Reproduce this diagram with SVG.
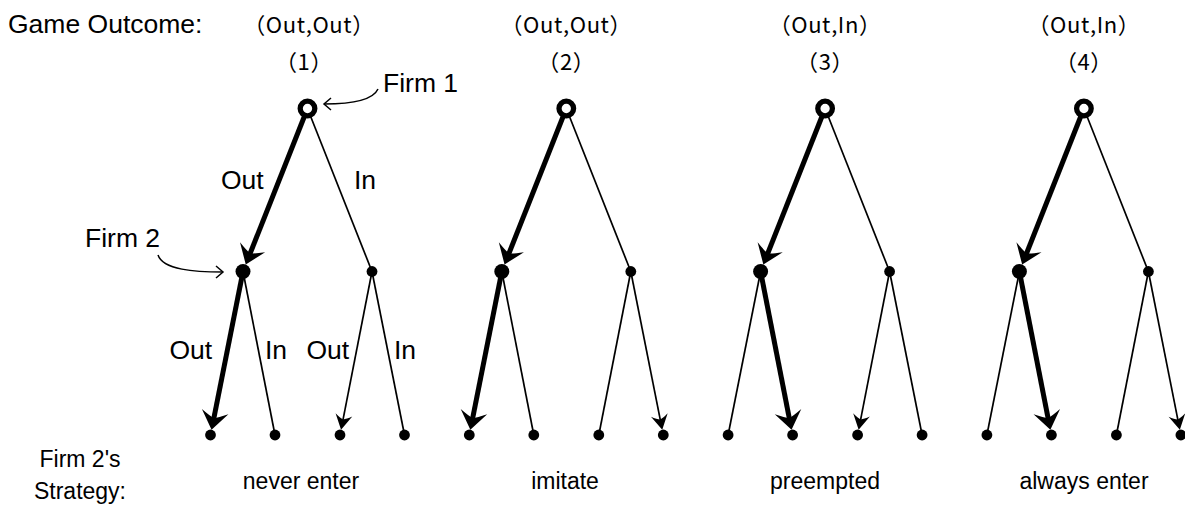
<svg xmlns="http://www.w3.org/2000/svg" width="1185" height="508" viewBox="0 0 1185 508">
  <style>
    .lbl { font-family: "Liberation Sans", Arial, sans-serif; font-size: 26.5px; fill: #000; }
    .small { font-size: 23px; }
    .mid { text-anchor: middle; }
    .jp { font-family: "Noto Sans CJK JP", "Noto Sans", sans-serif; font-size: 22px; letter-spacing: 0.6px; fill: #000; text-anchor: middle; }
    .thick { stroke: #000; stroke-width: 5; fill: none; }
    .thin { stroke: #000; stroke-width: 1.7; fill: none; }
    .thickArrow { marker-end: url(#headThick); }
    .thinArrow { marker-end: url(#headThin); }
    .pointer { stroke: #000; stroke-width: 1.5; fill: none; marker-end: url(#headOpen); }
    .root { fill: #fff; stroke: #000; stroke-width: 5.3; }
    .dot { fill: #000; }
  </style>
  <defs>
    <marker id="headThick" markerUnits="userSpaceOnUse" orient="auto" overflow="visible" markerWidth="1" markerHeight="1">
      <path d="M10,0 L-8.5,-13.5 Q-3,-4 -2,0 Q-3,4 -8.5,13.5 Z" fill="#000"/>
    </marker>
    <marker id="headThin" markerUnits="userSpaceOnUse" orient="auto" overflow="visible" markerWidth="1" markerHeight="1">
      <path d="M8,0 L-7,-8.5 Q-3,-3 -2.5,0 Q-3,3 -7,8.5 Z" fill="#000"/>
    </marker>
    <marker id="headOpen" markerUnits="userSpaceOnUse" orient="auto" overflow="visible" markerWidth="1" markerHeight="1">
      <path d="M-7,-6 L0,0 L-7,6" fill="none" stroke="#000" stroke-width="1.5"/>
    </marker>
  </defs>

  <!-- row captions -->
  <g id="captions">
    <text class="lbl" x="8" y="33">Game Outcome:</text>
    <text class="lbl small mid" x="80" y="467">Firm 2's</text>
    <text class="lbl small mid" x="80" y="499">Strategy:</text>
  </g>

  <!-- edges of the four game trees -->
  <g id="connectors">
    <!-- tree 1 -->
    <path class="thick thickArrow" d="M307.5,108.5 L249.44,255.2"/>
    <path class="thin" d="M307.5,108.5 L372,271.5"/>
    <path class="thick thickArrow" d="M243,271.5 L213.5,419.9"/>
    <path class="thin" d="M243,271.5 L275,435"/>
    <path class="thin thinArrow" d="M372,271.5 L342.58,421.85"/>
    <path class="thin" d="M372,271.5 L404.5,435"/>
    <!-- tree 2 -->
    <path class="thick thickArrow" d="M566.3,108.5 L508.24,255.2"/>
    <path class="thin" d="M566.3,108.5 L630.8,271.5"/>
    <path class="thick thickArrow" d="M501.8,271.5 L472.3,419.9"/>
    <path class="thin" d="M501.8,271.5 L533.8,435"/>
    <path class="thin" d="M630.8,271.5 L598.8,435"/>
    <path class="thin thinArrow" d="M630.8,271.5 L660.69,421.85"/>
    <!-- tree 3 -->
    <path class="thick thickArrow" d="M825.1,108.5 L767.04,255.2"/>
    <path class="thin" d="M825.1,108.5 L889.6,271.5"/>
    <path class="thin" d="M760.6,271.5 L728.1,435"/>
    <path class="thick thickArrow" d="M760.6,271.5 L789.64,419.9"/>
    <path class="thin thinArrow" d="M889.6,271.5 L860.18,421.85"/>
    <path class="thin" d="M889.6,271.5 L922.1,435"/>
    <!-- tree 4 -->
    <path class="thick thickArrow" d="M1083.9,108.5 L1025.84,255.2"/>
    <path class="thin" d="M1083.9,108.5 L1148.4,271.5"/>
    <path class="thin" d="M1019.4,271.5 L986.9,435"/>
    <path class="thick thickArrow" d="M1019.4,271.5 L1048.44,419.9"/>
    <path class="thin" d="M1148.4,271.5 L1116.4,435"/>
    <path class="thin thinArrow" d="M1148.4,271.5 L1178.29,421.85"/>
    <!-- player pointers -->
    <path class="pointer" d="M378,89 C373,100 352,104 324,104"/>
    <path class="pointer" d="M158,255 C163,270 195,272 223,272"/>
  </g>

  <!-- tree 1: never enter -->
  <g id="tree1">
    <text class="jp" x="309" y="33">（Out,Out）</text>
    <text class="jp" x="304" y="70">（1）</text>
    <circle class="root" cx="307.5" cy="108.5" r="7.3"/>
    <circle class="dot" cx="243" cy="271.5" r="7.5"/>
    <circle class="dot" cx="372" cy="271.5" r="5.4"/>
    <circle class="dot" cx="210.5" cy="435" r="5.4"/>
    <circle class="dot" cx="275" cy="435" r="5.4"/>
    <circle class="dot" cx="340" cy="435" r="5.4"/>
    <circle class="dot" cx="404.5" cy="435" r="5.4"/>
    <text class="lbl" x="383" y="92">Firm 1</text>
    <text class="lbl" x="85" y="247">Firm 2</text>
    <text class="lbl" x="221" y="189">Out</text>
    <text class="lbl" x="354" y="189">In</text>
    <text class="lbl" x="169.5" y="359">Out</text>
    <text class="lbl" x="265" y="359">In</text>
    <text class="lbl" x="306.5" y="359">Out</text>
    <text class="lbl" x="394" y="359">In</text>
    <text class="lbl small mid" x="301" y="489">never enter</text>
  </g>

  <!-- tree 2: imitate -->
  <g id="tree2">
    <text class="jp" x="566.3" y="33">（Out,Out）</text>
    <text class="jp" x="566.3" y="70">（2）</text>
    <circle class="root" cx="566.3" cy="108.5" r="7.3"/>
    <circle class="dot" cx="501.8" cy="271.5" r="7.5"/>
    <circle class="dot" cx="630.8" cy="271.5" r="5.4"/>
    <circle class="dot" cx="469.3" cy="435" r="5.4"/>
    <circle class="dot" cx="533.8" cy="435" r="5.4"/>
    <circle class="dot" cx="598.8" cy="435" r="5.4"/>
    <circle class="dot" cx="663.3" cy="435" r="5.4"/>
    <text class="lbl small mid" x="565" y="489">imitate</text>
  </g>

  <!-- tree 3: preempted -->
  <g id="tree3">
    <text class="jp" x="825.1" y="33">（Out,In）</text>
    <text class="jp" x="825.1" y="70">（3）</text>
    <circle class="root" cx="825.1" cy="108.5" r="7.3"/>
    <circle class="dot" cx="760.6" cy="271.5" r="7.5"/>
    <circle class="dot" cx="889.6" cy="271.5" r="5.4"/>
    <circle class="dot" cx="728.1" cy="435" r="5.4"/>
    <circle class="dot" cx="792.6" cy="435" r="5.4"/>
    <circle class="dot" cx="857.6" cy="435" r="5.4"/>
    <circle class="dot" cx="922.1" cy="435" r="5.4"/>
    <text class="lbl small mid" x="825" y="489">preempted</text>
  </g>

  <!-- tree 4: always enter -->
  <g id="tree4">
    <text class="jp" x="1083.9" y="33">（Out,In）</text>
    <text class="jp" x="1083.9" y="70">（4）</text>
    <circle class="root" cx="1083.9" cy="108.5" r="7.3"/>
    <circle class="dot" cx="1019.4" cy="271.5" r="7.5"/>
    <circle class="dot" cx="1148.4" cy="271.5" r="5.4"/>
    <circle class="dot" cx="986.9" cy="435" r="5.4"/>
    <circle class="dot" cx="1051.4" cy="435" r="5.4"/>
    <circle class="dot" cx="1116.4" cy="435" r="5.4"/>
    <circle class="dot" cx="1180.9" cy="435" r="5.4"/>
    <text class="lbl small mid" x="1084" y="489">always enter</text>
  </g>
</svg>
